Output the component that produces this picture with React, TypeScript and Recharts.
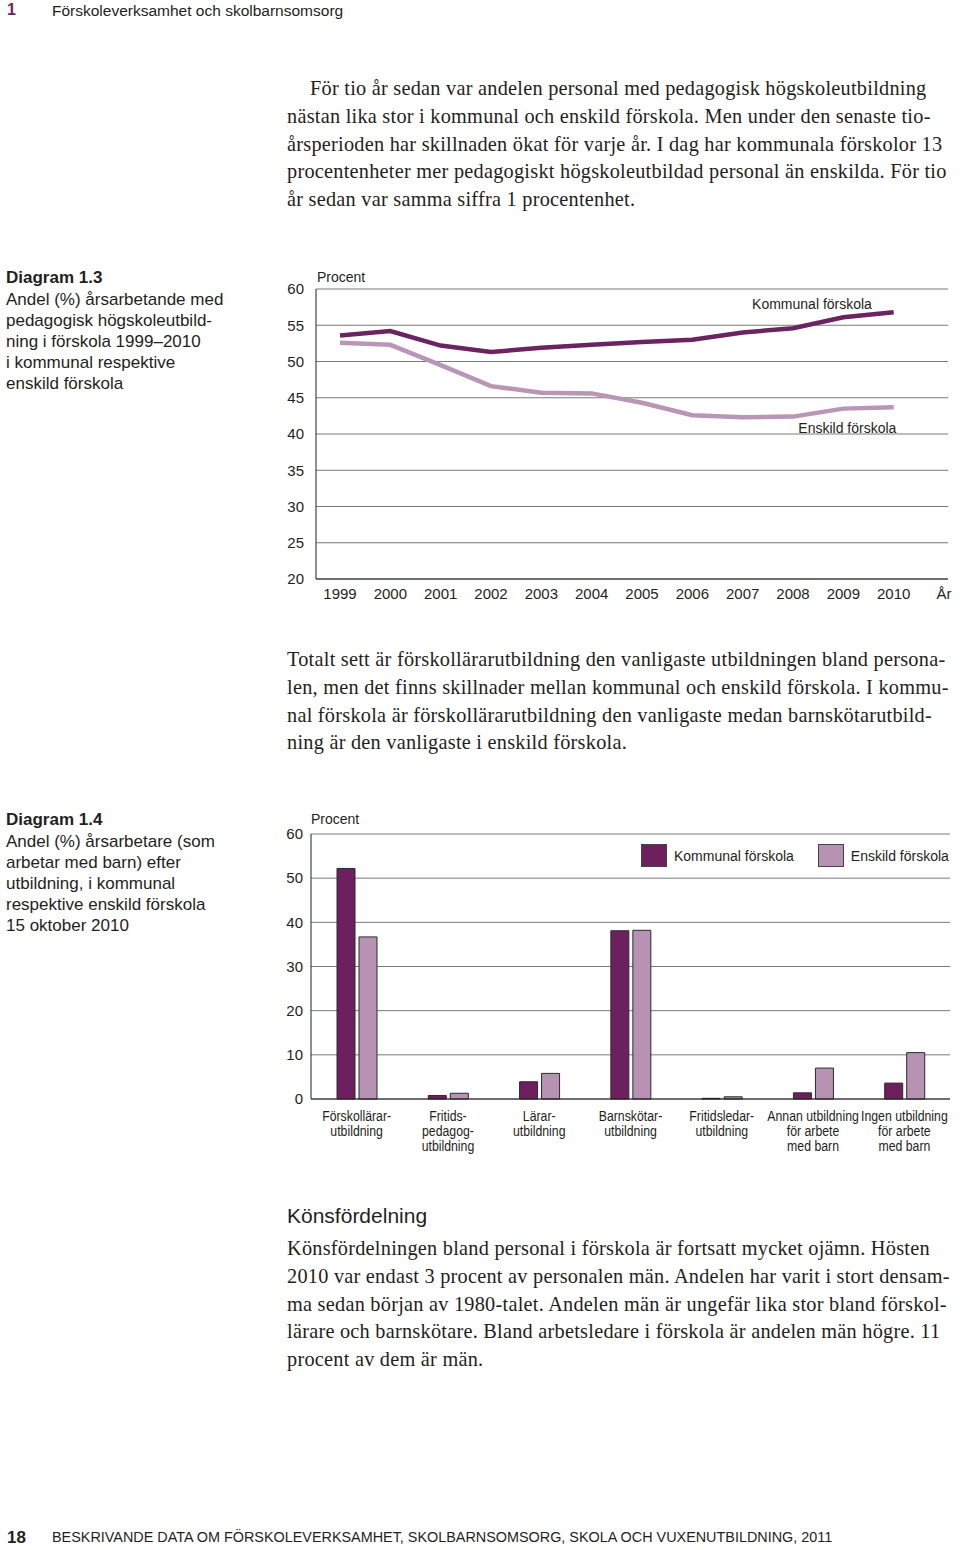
import React from 'react';
import { LineChart, Line, BarChart, Bar, XAxis, YAxis, CartesianGrid, Legend } from 'recharts';

// Diagram 1.3 – andel med pedagogisk högskoleutbildning
const years = ['1999', '2000', '2001', '2002', '2003', '2004', '2005', '2006', '2007', '2008', '2009', '2010'];
const yearAxisTitle = 'År';
const kommunalAndel = [53.6, 54.2, 52.2, 51.3, 51.9, 52.3, 52.7, 53.0, 54.0, 54.6, 56.1, 56.8];
const enskildAndel = [52.6, 52.3, 49.5, 46.6, 45.7, 45.6, 44.3, 42.6, 42.3, 42.4, 43.5, 43.7];
const lineTicks = [20, 25, 30, 35, 40, 45, 50, 55, 60];

// Diagram 1.4 – årsarbetare efter utbildning
const utbildningar = [
  'Förskollärar-\nutbildning',
  'Fritids-\npedagog-\nutbildning',
  'Lärar-\nutbildning',
  'Barnskötar-\nutbildning',
  'Fritidsledar-\nutbildning',
  'Annan utbildning\nför arbete\nmed barn',
  'Ingen utbildning\nför arbete\nmed barn',
];
const kommunalUtb = [52.2, 0.8, 3.9, 38.1, 0.15, 1.4, 3.6];
const enskildUtb = [36.7, 1.3, 5.8, 38.2, 0.5, 7.0, 10.5];
const barTicks = [0, 10, 20, 30, 40, 50, 60];
const seriesOrder = ['kommunal', 'enskild'];

const KOMMUNAL_LINE = '#6b2462';
const ENSKILD_LINE = '#b996b5';
const KOMMUNAL_BAR = '#6d1f5e';
const ENSKILD_BAR = '#b792b3';
const SANS = "'Liberation Sans', Arial, sans-serif";
const SERIF = "'Liberation Serif', 'Times New Roman', serif";
const TEXT = '#231f20';

const lineData = [
  ...years.map((year, i) => ({ year, kommunal: kommunalAndel[i], enskild: enskildAndel[i] })),
  { year: yearAxisTitle, kommunal: null, enskild: null },
];

const barData = utbildningar.map((name, i) => ({
  name,
  kommunal: kommunalUtb[i],
  enskild: enskildUtb[i],
}));

const para1 = [
  'För tio år sedan var andelen personal med pedagogisk högskoleutbildning',
  'nästan lika stor i kommunal och enskild förskola. Men under den senaste tio-',
  'årsperioden har skillnaden ökat för varje år. I dag har kommunala förskolor 13',
  'procentenheter mer pedagogiskt högskoleutbildad personal än enskilda. För tio',
  'år sedan var samma siffra 1 procentenhet.',
];
const para2 = [
  'Totalt sett är förskollärarutbildning den vanligaste utbildningen bland persona-',
  'len, men det finns skillnader mellan kommunal och enskild förskola. I kommu-',
  'nal förskola är förskollärarutbildning den vanligaste medan barnskötarutbild-',
  'ning är den vanligaste i enskild förskola.',
];
const para3 = [
  'Könsfördelningen bland personal i förskola är fortsatt mycket ojämn. Hösten',
  '2010 var endast 3 procent av personalen män. Andelen har varit i stort densam-',
  'ma sedan början av 1980-talet. Andelen män är ungefär lika stor bland förskol-',
  'lärare och barnskötare. Bland arbetsledare i förskola är andelen män högre. 11',
  'procent av dem är män.',
];
const caption13 = ['Andel (%) årsarbetande med', 'pedagogisk högskoleutbild-', 'ning i förskola 1999–2010', 'i kommunal respektive', 'enskild förskola'];
const caption14 = ['Andel (%) årsarbetare (som', 'arbetar med barn) efter', 'utbildning, i kommunal', 'respektive enskild förskola', '15 oktober 2010'];

const Paragraph = ({ lines, top, indent = 0 }: { lines: string[]; top: number; indent?: number }) => (
  <div
    style={{
      position: 'absolute',
      left: 287,
      top,
      fontFamily: SERIF,
      fontSize: 20.3,
      letterSpacing: 0.25,
      lineHeight: '27.75px',
      color: TEXT,
      whiteSpace: 'nowrap',
    }}
  >
    {lines.map((l, i) => (
      <div key={i} style={{ paddingLeft: i === 0 ? indent : 0 }}>{l}</div>
    ))}
  </div>
);

const Caption = ({ title, lines, top }: { title: string; lines: string[]; top: number }) => (
  <div style={{ position: 'absolute', left: 6, top, fontFamily: SANS, fontSize: 17, color: TEXT, whiteSpace: 'nowrap' }}>
    <div style={{ fontWeight: 'bold', lineHeight: '23px' }}>{title}</div>
    {lines.map((l, i) => (
      <div key={i} style={{ lineHeight: '21px' }}>{l}</div>
    ))}
  </div>
);

const seriesLabel = (text: string, at: number, dx: number, dy: number) => (props: any) => {
  if (props.index !== at) return null;
  return (
    <text x={props.x + dx} y={props.y + dy} textAnchor="middle" dominantBaseline="central" fontSize={14} fontFamily={SANS} fill={TEXT}>
      {text}
    </text>
  );
};

// the source uses a condensed face for the category names; squeeze them a little
const CategoryTick = (props: any) => {
  const { x, y, payload } = props;
  const lines = String(payload.value).split('\n');
  return (
    <g transform={`translate(${x},${y}) scale(0.82,1)`}>
      {lines.map((l: string, i: number) => (
        <text key={i} x={0} y={17 + i * 15} textAnchor="middle" dominantBaseline="central" fontSize={15} fontFamily={SANS} fill={TEXT}>
          {l}
        </text>
      ))}
    </g>
  );
};

const BarLegend = (props: any) => {
  const items = [...(props.payload || [])].sort(
    (a: any, b: any) => seriesOrder.indexOf(a.dataKey) - seriesOrder.indexOf(b.dataKey),
  );
  return (
    <div style={{ display: 'flex', alignItems: 'center', fontFamily: SANS, fontSize: 14, color: TEXT }}>
      {items.map((p: any, i: number) => (
        <div key={i} style={{ display: 'flex', alignItems: 'center', marginRight: 24 }}>
          <span style={{ display: 'inline-block', width: 24, height: 21, background: p.color, border: '1px solid #444', marginRight: 7 }} />
          <span>{p.value}</span>
        </div>
      ))}
    </div>
  );
};

export default function App() {
  return (
    <div style={{ position: 'absolute', left: 0, top: 0, width: 960, height: 1550, background: '#fff', color: TEXT }}>
      {/* sidhuvud */}
      <div style={{ position: 'absolute', left: 7, top: 1, fontFamily: SANS, fontSize: 16, fontWeight: 'bold', color: KOMMUNAL_LINE }}>1</div>
      <div style={{ position: 'absolute', left: 52, top: 2, fontFamily: SANS, fontSize: 15.5 }}>Förskoleverksamhet och skolbarnsomsorg</div>

      <Paragraph lines={para1} top={75} indent={23} />

      <Caption title="Diagram 1.3" lines={caption13} top={266} />
      <div style={{ position: 'absolute', left: 317, top: 269, fontFamily: SANS, fontSize: 14 }}>Procent</div>
      <div style={{ position: 'absolute', left: 270, top: 260 }}>
        <LineChart width={690} height={360} data={lineData} margin={{ top: 29, right: 12, bottom: 11, left: 0 }}>
          <CartesianGrid horizontal vertical={false} stroke="#7a7a7a" strokeWidth={1} />
          <XAxis
            dataKey="year"
            padding={{ left: 24, right: 4 }}
            axisLine={{ stroke: '#231f20' }}
            tickLine={false}
            tickSize={0}
            tickMargin={9}
            height={30}
            interval={0}
            tick={{ fontSize: 15, fill: TEXT, fontFamily: SANS }}
          />
          <YAxis
            domain={[20, 60]}
            ticks={lineTicks}
            width={46}
            axisLine={{ stroke: '#231f20' }}
            tickLine={false}
            tickSize={0}
            tickMargin={12}
            tick={{ fontSize: 15, fill: TEXT, fontFamily: SANS }}
          />
          <Line
            dataKey="kommunal"
            stroke={KOMMUNAL_LINE}
            strokeWidth={4.5}
            dot={false}
            isAnimationActive={false}
            label={seriesLabel('Kommunal förskola', 9, 19, -24)}
          />
          <Line
            dataKey="enskild"
            stroke={ENSKILD_LINE}
            strokeWidth={4.5}
            dot={false}
            isAnimationActive={false}
            label={seriesLabel('Enskild förskola', 10, 4, 19)}
          />
        </LineChart>
      </div>

      <Paragraph lines={para2} top={646} />

      <Caption title="Diagram 1.4" lines={caption14} top={808} />
      <div style={{ position: 'absolute', left: 311, top: 811, fontFamily: SANS, fontSize: 14 }}>Procent</div>
      <div style={{ position: 'absolute', left: 270, top: 800 }}>
        <BarChart width={690} height={370} data={barData} margin={{ top: 34, right: 10, bottom: 11, left: 0 }} barSize={18} barGap={4}>
          <CartesianGrid horizontal vertical={false} stroke="#7a7a7a" strokeWidth={1} />
          <XAxis
            dataKey="name"
            axisLine={{ stroke: '#231f20' }}
            tickLine={false}
            tickSize={0}
            tickMargin={0}
            height={60}
            interval={0}
            tick={<CategoryTick />}
          />
          <YAxis
            domain={[0, 60]}
            ticks={barTicks}
            width={41}
            axisLine={{ stroke: '#231f20' }}
            tickLine={false}
            tickSize={0}
            tickMargin={8}
            tick={{ fontSize: 15, fill: TEXT, fontFamily: SANS }}
          />
          <Legend
            layout="horizontal"
            verticalAlign="middle"
            align="center"
            content={<BarLegend />}
            wrapperStyle={{ top: 44, left: 371, width: 340 }}
          />
          <Bar dataKey="kommunal" name="Kommunal förskola" fill={KOMMUNAL_BAR} stroke="#2b2b2b" strokeWidth={1} isAnimationActive={false} />
          <Bar dataKey="enskild" name="Enskild förskola" fill={ENSKILD_BAR} stroke="#2b2b2b" strokeWidth={1} isAnimationActive={false} />
        </BarChart>
      </div>

      <div style={{ position: 'absolute', left: 287, top: 1204, fontFamily: SANS, fontSize: 21 }}>Könsfördelning</div>
      <Paragraph lines={para3} top={1235} />

      {/* sidfot */}
      <div style={{ position: 'absolute', left: 7, top: 1528, fontFamily: SANS, fontSize: 17, fontWeight: 'bold' }}>18</div>
      <div style={{ position: 'absolute', left: 52, top: 1529, fontFamily: SANS, fontSize: 14.4 }}>
        BESKRIVANDE DATA OM FÖRSKOLEVERKSAMHET, SKOLBARNSOMSORG, SKOLA OCH VUXENUTBILDNING, 2011
      </div>
    </div>
  );
}
